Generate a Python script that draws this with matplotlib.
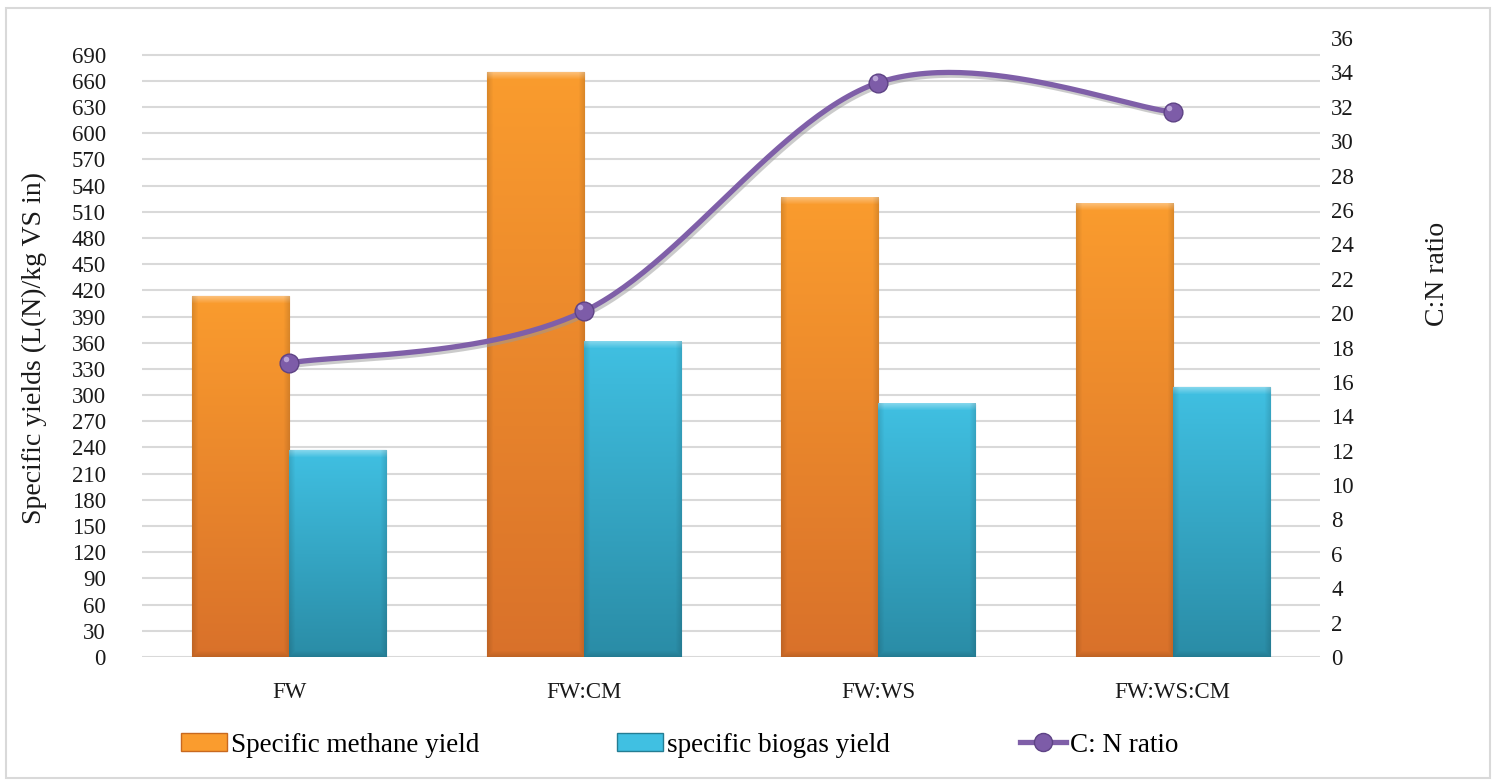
import numpy as np
import matplotlib
matplotlib.use("Agg")
import matplotlib.pyplot as plt
from matplotlib.patches import Rectangle, Patch
from matplotlib.lines import Line2D
import matplotlib.patheffects as pe

# Co-digestion mixtures and measured yields
mixtures = ["FW", "FW:CM", "FW:WS", "FW:WS:CM"]
methane_yield = [413, 670, 526, 519]      # L(N)/kg VS in
biogas_yield = [237, 361, 290, 309]       # L(N)/kg VS in
cn_ratio = [17.1, 20.1, 33.4, 31.7]

left_ticks = list(range(0, 691, 30))
right_ticks = list(range(0, 37, 2))

ORANGE_TOP, ORANGE_BOT = "#fa9c2e", "#d9712a"
CYAN_TOP, CYAN_BOT = "#40c0e2", "#2a8ca6"
PURPLE = "#7f5fa8"
TXT = "#1a1a1a"

plt.rcParams["font.family"] = ["Liberation Serif", "DejaVu Serif"]

W, H = 1497, 782
fig = plt.figure(figsize=(W / 100, H / 100), dpi=100)
fig.patches.append(Rectangle((6 / W, 4 / H), 1484 / W, 770 / H, transform=fig.transFigure,
                             fill=False, edgecolor="#d9d9d9", linewidth=1.5))

ax = fig.add_axes([142 / W, (H - 657) / H, 1178 / W, 619 / H])
ax2 = ax.twinx()


def hex_rgb(c):
    c = c.lstrip("#")
    return np.array([int(c[i:i + 2], 16) / 255 for i in (0, 2, 4)])


def bevel_fill(ax, patch, top, bot, px_per_unit):
    """Fill a bar with a vertical gradient and a soft bevelled rim."""
    x0, y0 = patch.get_x(), patch.get_y()
    w, h = patch.get_width(), patch.get_height()
    ny = max(int(h * px_per_unit), 2)
    nx = 97
    t = np.linspace(0, 1, ny)[:, None]            # 0 = bottom, 1 = top
    base = hex_rgb(bot) * (1 - t[..., None]) + hex_rgb(top) * t[..., None]
    img = np.repeat(base, nx, axis=1)
    # bevel: light top band, darker sides and bottom
    yy = np.arange(ny)[:, None]
    xx = np.arange(nx)[None, :]
    from_top = ny - 1 - yy
    top_band = np.clip(1 - from_top / 7, 0, 1)
    side = np.clip(1 - np.minimum(xx, nx - 1 - xx) / 6, 0, 1)
    bottom_band = np.clip(1 - yy / 6, 0, 1)
    img = img + (1 - img) * (0.35 * top_band)[..., None]
    img = img * (1 - 0.12 * np.maximum(side, bottom_band))[..., None]
    ax.imshow(np.clip(img, 0, 1), extent=[x0, x0 + w, y0, y0 + h], origin="lower",
              aspect="auto", clip_path=patch, zorder=3, interpolation="bilinear")


x = np.arange(len(mixtures))
bw = 0.33
bars_m = ax.bar(x - bw / 2, methane_yield, bw, color=ORANGE_BOT, edgecolor="#c8691f",
                linewidth=0.8, zorder=2)
bars_b = ax.bar(x + bw / 2, biogas_yield, bw, color=CYAN_BOT, edgecolor="#247d93",
                linewidth=0.8, zorder=2)

ax.set_xlim(-0.5, 3.5)
ax.set_ylim(0, 709)
px_per_unit = 619 / 709
for p in bars_m:
    bevel_fill(ax, p, ORANGE_TOP, ORANGE_BOT, px_per_unit)
for p in bars_b:
    bevel_fill(ax, p, CYAN_TOP, CYAN_BOT, px_per_unit)
ax.set_xlim(-0.5, 3.5)
ax.set_ylim(0, 709)

ax.set_yticks(left_ticks)
ax.yaxis.grid(True, color="#d9d9d9", linewidth=1.5, zorder=0)
ax.set_axisbelow(True)
ax.set_xticks(x)
ax.set_xticklabels(mixtures)
ax.tick_params(axis="both", length=0, labelsize=16.5, colors=TXT)
ax.tick_params(axis="y", pad=26)
ax.tick_params(axis="x", pad=18)
for s in ax.spines.values():
    s.set_visible(False)
ax.set_ylabel("Specific yields (L(N)/kg VS in)", fontsize=20, color=TXT)
ax.yaxis.set_label_coords(-0.081, 0.5)


def smooth_curve(xs, ys, n=60):
    """Cubic Bezier smoothing through the points (Catmull-Rom style handles)."""
    pts = np.column_stack([xs, ys]).astype(float)
    out = []
    for i in range(len(pts) - 1):
        p0 = pts[i - 1] if i > 0 else pts[i]
        p1, p2 = pts[i], pts[i + 1]
        p3 = pts[i + 2] if i + 2 < len(pts) else pts[i + 1]
        c1 = p1 + (p2 - p0) / 6
        c2 = p2 - (p3 - p1) / 6
        s = np.linspace(0, 1, n)[:, None]
        seg = ((1 - s) ** 3) * p1 + 3 * ((1 - s) ** 2) * s * c1 + 3 * (1 - s) * s ** 2 * c2 + s ** 3 * p2
        out.append(seg if i == 0 else seg[1:])
    c = np.vstack(out)
    return c[:, 0], c[:, 1]


cx, cy = smooth_curve(x, cn_ratio)
shadow = [pe.SimpleLineShadow(offset=(1.5, -2), shadow_color="#999999", alpha=0.5), pe.Normal()]
ax2.plot(cx, cy, color=PURPLE, linewidth=3.8, zorder=4, path_effects=shadow,
         solid_capstyle="round")
ax2.plot(x, cn_ratio, linestyle="none", marker="o", markersize=13.5, markerfacecolor="#7d5ca8",
         markeredgecolor="#5e4385", markeredgewidth=1.0, zorder=5)
ax2.plot(x - 0.012, np.array(cn_ratio) + 0.25, linestyle="none", marker="o", markersize=4,
         markerfacecolor="#b9a3d6", markeredgewidth=0, zorder=6)
ax2.set_ylim(0, 36)
ax2.set_yticks(right_ticks)
ax2.tick_params(axis="y", length=0, labelsize=16.5, colors=TXT, pad=8)
for s in ax2.spines.values():
    s.set_visible(False)
fig.text(1437 / W, 1 - 274 / H, "C:N ratio", rotation=90, fontsize=20, color=TXT,
         ha="center", va="center")

# one legend per entry so each can sit at its own spot along the bottom row
legend_items = [
    (Patch(facecolor=ORANGE_TOP, edgecolor="#c8691f", label="Specific methane yield"), 181),
    (Patch(facecolor=CYAN_TOP, edgecolor="#247d93", label="specific biogas yield"), 617),
    (Line2D([0], [0], color=PURPLE, linewidth=3.8, marker="o", markersize=13,
            markerfacecolor="#7d5ca8", markeredgecolor="#5e4385", label="C: N ratio"), 1020),
]
for handle, left in legend_items:
    fig.legend(handles=[handle], loc="center left", bbox_to_anchor=(left / W, 1 - 745 / H),
               frameon=False, fontsize=19.5, handlelength=1.7, handleheight=0.6,
               handletextpad=0.15, borderpad=0, borderaxespad=0)

fig.savefig("out.png", dpi=100)
